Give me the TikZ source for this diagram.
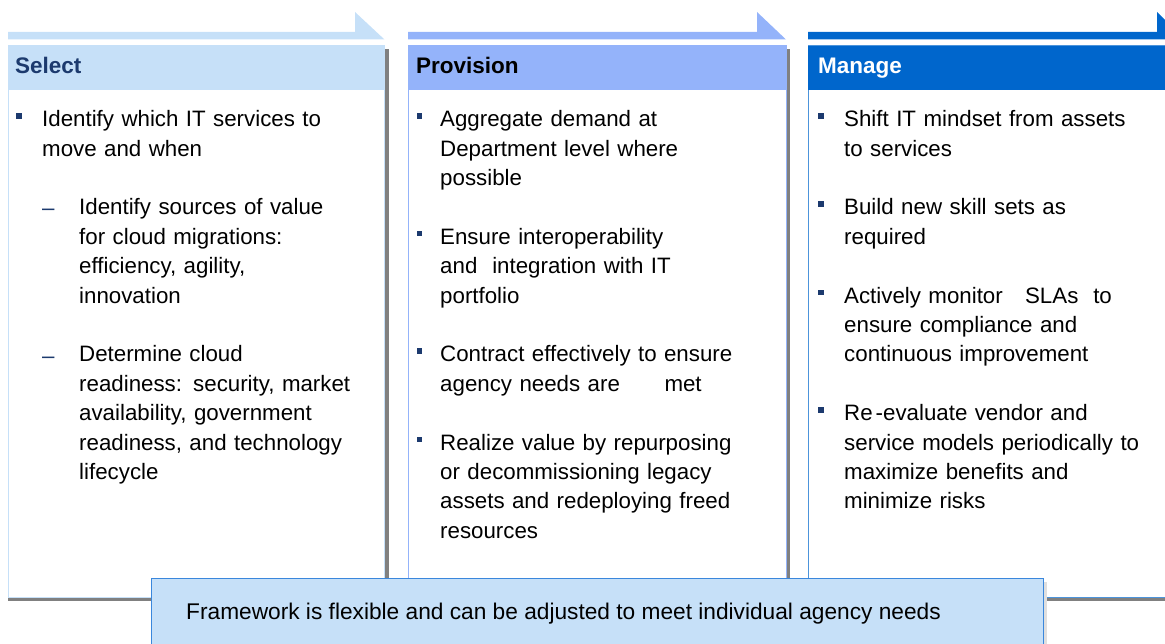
\documentclass[tikz,border=0pt]{standalone}
\usepackage{fontspec}
\setmainfont{Liberation Sans}
\usetikzlibrary{positioning}
\usetikzlibrary{calc}
\definecolor{selblue}{HTML}{C6E0F8}
\definecolor{problue}{HTML}{94B3FA}
\definecolor{manblue}{HTML}{0066CC}
\definecolor{navy}{HTML}{1C3A6E}
\definecolor{bargray}{HTML}{808080}
\definecolor{fwline}{HTML}{3A87DC}
\tikzset{
    hdrsel/.style = {anchor=base west, inner sep=0pt, font=\bfseries\fontsize{22.5}{27}\selectfont, text=navy},
    hdrpro/.style = {anchor=base west, inner sep=0pt, font=\bfseries\fontsize{22.5}{27}\selectfont, text=black},
    hdrman/.style = {anchor=base west, inner sep=0pt, font=\bfseries\fontsize{22.5}{27}\selectfont, text=white},
    itemtxt/.style = {anchor=north west, inner sep=0pt, align=left, text width=320pt, font=\fontsize{22.3}{29.4}\selectfont, execute at begin node=\strut},
    bul/.style = {rectangle, fill=navy, minimum size=5.5pt, inner sep=0pt},
    dsh/.style = {anchor=base west, inner sep=0pt, text=navy, font=\fontsize{22.3}{29.4}\selectfont},
    shadowbar/.style = {fill=bargray},
    panel/.style = {fill=white, line width=1pt},
    fwbox/.style = {draw=fwline, fill=selblue, line width=1pt},
    fwtext/.style = {anchor=base west, inner sep=0pt, font=\fontsize{22.7}{26}\selectfont}
}

\begin{document}
\begin{tikzpicture}[x=1pt, y=-1pt]
  \useasboundingbox (0,0) rectangle (1165,644);
  \clip (0,0) rectangle (1165,644);

  % arrows on top
  \fill[selblue] (8,32) -- (355,32) -- (355,12) -- (384.5,39.5) -- (8,39.5) -- cycle;
  \fill[problue] (408,32) -- (757,32) -- (757,12) -- (786,39.5) -- (408,39.5) -- cycle;
  \fill[manblue] (808,32) -- (1157,32) -- (1157,12) -- (1184.5,39.5) -- (808,39.5) -- cycle;

  % panels
  \fill[shadowbar] (8,49) rectangle (388.5,601);
  \draw[panel, draw=selblue] (8,46) rectangle (384.5,597);
  \fill[selblue] (8,46) rectangle (384.5,90.5);

  \fill[shadowbar] (408,49) rectangle (790,601);
  \draw[panel, draw=problue] (408,46) rectangle (786,597);
  \fill[problue] (408,46) rectangle (786,90.5);

  \fill[shadowbar] (808,49) rectangle (1204,601);
  \draw[panel, draw=manblue!70] (808,46) rectangle (1200,597);
  \fill[manblue] (808,46) rectangle (1200,90.5);

  \node[hdrsel] (sel) at (15,74) {Select};
  \node[hdrpro] (pro) at (416,74) {Provision};
  \node[hdrman] (man) at (818,74) {Manage};

  % select
  \node[itemtxt] (s1) at (42,105.9) {Identify which IT services to\\move and when};
  \node[bul] (bs1) at ($(s1.north west)+(-23,10)$) {};
  \node[itemtxt] (s2) at (79,194.1) {Identify sources of value\\for cloud migrations:\\efficiency, agility,\\innovation};
  \node[dsh] (ds2) at (42,216) {–};
  \node[itemtxt] (s3) at (79,341.1) {Determine cloud\\readiness: security, market\\availability, government\\readiness, and technology\\lifecycle};
  \node[dsh] (ds3) at (42,363) {–};

  % provision
  \node[itemtxt] (p1) at (440,105.9) {Aggregate demand at\\Department level where\\possible};
  \node[bul] (bp1) at ($(p1.north west)+(-20.5,10)$) {};
  \node[itemtxt] (p2) at (440,223.5) {Ensure interoperability\\and\ \ integration with IT\\portfolio};
  \node[bul] (bp2) at ($(p2.north west)+(-20.5,10)$) {};
  \node[itemtxt] (p3) at (440,341.1) {Contract effectively to ensure\\agency needs are\ \ \ \ \ \ met};
  \node[bul] (bp3) at ($(p3.north west)+(-20.5,10)$) {};
  \node[itemtxt] (p4) at (440,429.3) {Realize value by repurposing\\or decommissioning legacy\\assets and redeploying freed\\resources};
  \node[bul] (bp4) at ($(p4.north west)+(-20.5,10)$) {};

  % manage
  \node[itemtxt] (m1) at (844,105.9) {Shift IT mindset from assets\\to services};
  \node[bul] (bm1) at ($(m1.north west)+(-23,10)$) {};
  \node[itemtxt] (m2) at (844,194.1) {Build new skill sets as\\required};
  \node[bul] (bm2) at ($(m2.north west)+(-23,10)$) {};
  \node[itemtxt] (m3) at (844,282.3) {Actively monitor\ \ \ SLAs\ \ to\\ensure compliance and\\continuous improvement};
  \node[bul] (bm3) at ($(m3.north west)+(-23,10)$) {};
  \node[itemtxt] (m4) at (844,399.9) {Re\kern3pt-evaluate vendor and\\service models periodically to\\maximize benefits and\\minimize risks};
  \node[bul] (bm4) at ($(m4.north west)+(-23,10)$) {};

  % bottom note
  \fill[gray!25] (155,582) rectangle (1047,660);
  \draw[fwbox] (151,578) rectangle (1043,660);
  \node[fwtext] (fw) at (186,619) {Framework is flexible and can be adjusted to meet individual agency needs};
\end{tikzpicture}
\end{document}
